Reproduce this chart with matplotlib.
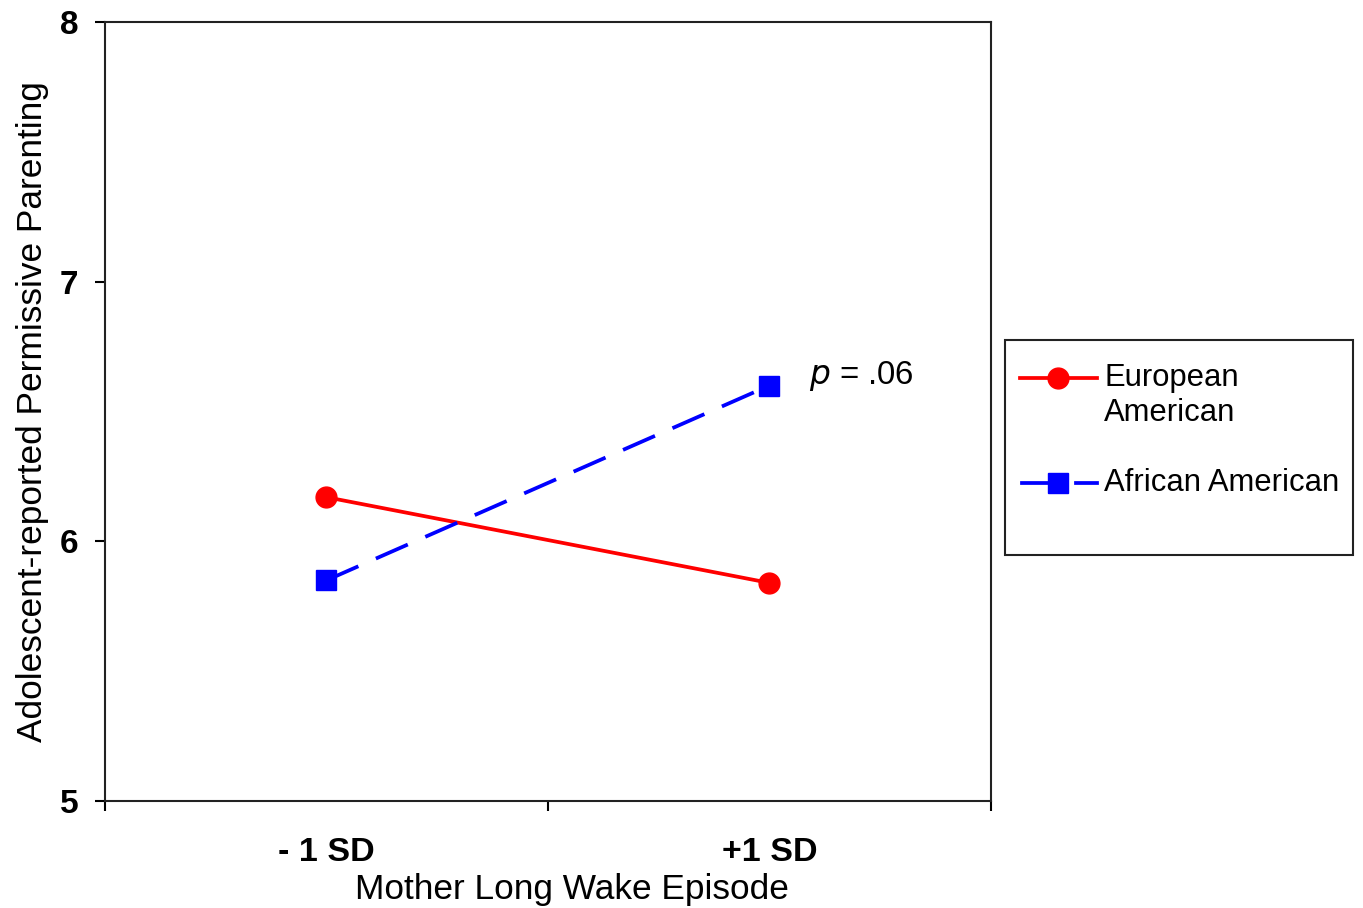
import matplotlib
matplotlib.use('Agg')
import matplotlib.pyplot as plt
from matplotlib.lines import Line2D
from matplotlib.patches import Rectangle

plt.rcParams['font.family'] = ['Liberation Sans', 'DejaVu Sans']

# data
groups = ['- 1 SD', '+1 SD']
european = [6.17, 5.84]
african = [5.85, 6.60]
y_ticks = [5, 6, 7, 8]

RED = '#ff0000'
BLUE = '#0000ff'
LW = 2.7
DASH = (9.3, 5.1)

fig = plt.figure(figsize=(13.63, 9.08), dpi=100)
ax = fig.add_axes([0.077, 0.1178, 0.65, 0.858])

xpos = [0.5, 1.5]
ax.plot(xpos, european, color=RED, lw=LW, marker='o', ms=15, zorder=3)
ax.plot(xpos, african, color=BLUE, lw=LW, marker='s', ms=15,
        dashes=DASH, zorder=3)

ax.text(1.59, 6.57, r'$\it{p}$ = .06', fontsize=23.7, va='bottom', ha='left')

ax.set_xlim(0, 2)
ax.set_ylim(5, 8)
ax.set_yticks(y_ticks)
ax.set_yticklabels([str(v) for v in y_ticks], fontsize=24, fontweight='bold')
ax.set_xticks([0, 1, 2])
ax.set_xticklabels([])
ax.set_xticks(xpos, minor=True)
ax.set_xticklabels(groups, minor=True, fontsize=24.5, fontweight='bold')
ax.tick_params(axis='x', which='minor', length=0, pad=26)
ax.tick_params(axis='both', which='major', direction='out', length=7, width=1.5)
ax.tick_params(axis='y', pad=12)
for s in ax.spines.values():
    s.set_linewidth(1.5)
    s.set_color('#222222')

ax.set_xlabel('Mother Long Wake Episode', fontsize=25.4)
ax.xaxis.set_label_coords(0.527, -0.0925)
ax.set_ylabel('Adolescent-reported Permissive Parenting', fontsize=25.4, labelpad=8)

# legend drawn by hand in figure coordinates
tf = fig.transFigure
fig.add_artist(Rectangle((0.737, 0.389), 0.256, 0.237, transform=tf,
                         fill=False, edgecolor='#222222', lw=1.5))
fig.add_artist(Line2D([0.7483, 0.8048], [0.5837, 0.5837], transform=tf,
                      color=RED, lw=LW))
fig.add_artist(Line2D([0.7762], [0.5837], transform=tf, color=RED,
                      marker='o', ms=15, lw=0))
fig.add_artist(Line2D([0.7498, 0.7792], [0.4681, 0.4681], transform=tf,
                      color=BLUE, lw=LW))
fig.add_artist(Line2D([0.7894, 0.8048], [0.4681, 0.4681], transform=tf,
                      color=BLUE, lw=LW))
fig.add_artist(Line2D([0.7762], [0.4681], transform=tf, color=BLUE,
                      marker='s', ms=15, lw=0))
fig.text(0.81, 0.5837, 'European', fontsize=22.3, va='center', ha='left')
fig.text(0.81, 0.5452, 'American', fontsize=22.3, va='center', ha='left')
fig.text(0.81, 0.4681, 'African American', fontsize=22.3, va='center', ha='left')

fig.savefig('out.png', dpi=100)
